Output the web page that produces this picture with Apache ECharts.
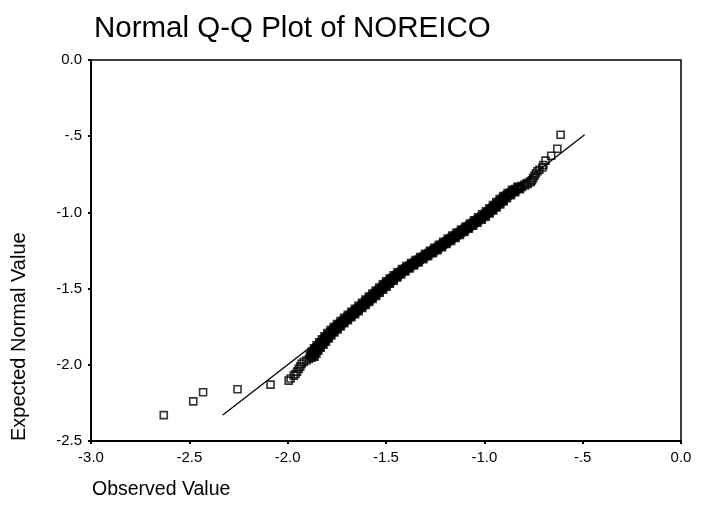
<!DOCTYPE html>
<html>
<head>
<meta charset="utf-8">
<script src="https://cdn.jsdelivr.net/npm/echarts@6/dist/echarts.min.js"></script>
<style>
html,body{margin:0;padding:0;background:#fff;}
#chart{width:709px;height:515px;}
</style>
</head>
<body>
<div id="chart"></div>
<script>
// Isolated points in the tails: observed (x) and expected normal (y)
const tailObserved = [
  -2.630,-2.480,-2.430,-2.255,-2.087,-1.995,-1.985,-1.969,-1.960,-1.952,-1.944,-1.936,-1.929,-1.918,-1.905,-1.892,
  -0.758,-0.752,-0.745,-0.738,-0.730,-0.720,-0.705,-0.700,-0.689,-0.660,-0.629,-0.612
];
const tailExpected = [
  -2.330,-2.240,-2.180,-2.160,-2.130,-2.104,-2.090,-2.071,-2.060,-2.045,-2.026,-2.012,-1.994,-1.982,-1.972,-1.962,
  -0.790,-0.775,-0.760,-0.745,-0.730,-0.720,-0.705,-0.690,-0.660,-0.628,-0.582,-0.490
];
// Dense band of points: observed (x) and expected normal (y)
const bandObserved = [
  -1.880,-1.874,-1.871,-1.864,-1.861,-1.854,-1.850,-1.841,-1.836,-1.828,-1.823,-1.814,-1.809,-1.801,-1.796,-1.787,
  -1.781,-1.771,-1.765,-1.755,-1.749,-1.738,-1.731,-1.720,-1.713,-1.702,-1.695,-1.684,-1.676,-1.665,-1.658,-1.647,
  -1.640,-1.629,-1.622,-1.611,-1.604,-1.593,-1.587,-1.576,-1.569,-1.558,-1.551,-1.541,-1.534,-1.523,-1.516,-1.505,
  -1.499,-1.488,-1.481,-1.469,-1.462,-1.450,-1.443,-1.431,-1.422,-1.409,-1.400,-1.387,-1.378,-1.364,-1.354,-1.341,
  -1.331,-1.317,-1.307,-1.293,-1.282,-1.268,-1.258,-1.245,-1.235,-1.222,-1.212,-1.199,-1.190,-1.176,-1.167,-1.153,
  -1.144,-1.131,-1.122,-1.108,-1.099,-1.086,-1.077,-1.064,-1.055,-1.042,-1.033,-1.021,-1.013,-1.001,-0.993,-0.981,
  -0.974,-0.963,-0.956,-0.945,-0.938,-0.928,-0.921,-0.911,-0.904,-0.894,-0.885,-0.872,-0.863,-0.850,-0.841,-0.824,
  -0.811,-0.794,-0.782,-0.767,
  -1.865,-1.885,-1.856,-1.875,-1.846,-1.864,-1.834,-1.851,-1.820,-1.838,-1.807,-1.824,-1.793,-1.811,-1.780,-1.796,
  -1.764,-1.780,-1.748,-1.764,-1.732,-1.747,-1.714,-1.729,-1.696,-1.711,-1.678,-1.692,-1.659,-1.674,-1.641,-1.656,
  -1.623,-1.638,-1.605,-1.620,-1.587,-1.602,-1.570,-1.585,-1.552,-1.567,-1.534,-1.550,-1.517,-1.532,-1.499,-1.514,
  -1.482,-1.497,-1.463,-1.478,-1.444,-1.459,-1.425,-1.439,-1.404,-1.417,-1.382,-1.395,-1.359,-1.371,-1.336,-1.348,
  -1.312,-1.324,-1.288,-1.300,-1.263,-1.275,-1.240,-1.252,-1.217,-1.229,-1.194,-1.207,-1.171,-1.184,-1.148,-1.161,
  -1.126,-1.139,-1.103,-1.116,-1.081,-1.094,-1.059,-1.072,-1.037,-1.050,-1.015,-1.029,-0.995,-1.009,-0.975,-0.990,
  -0.957,-0.972,-0.939,-0.954,-0.921,-0.937,-0.904,-0.920,-0.887,-0.902,-0.867,-0.880,-0.845,-0.858,-0.821,-0.830
];
const bandExpected = [
  -1.950,-1.940,-1.930,-1.920,-1.910,-1.900,-1.890,-1.880,-1.870,-1.860,-1.850,-1.840,-1.830,-1.820,-1.810,-1.800,
  -1.790,-1.780,-1.770,-1.760,-1.750,-1.740,-1.730,-1.720,-1.710,-1.700,-1.690,-1.680,-1.670,-1.660,-1.650,-1.640,
  -1.630,-1.620,-1.610,-1.600,-1.590,-1.580,-1.570,-1.560,-1.550,-1.540,-1.530,-1.520,-1.510,-1.500,-1.490,-1.480,
  -1.470,-1.460,-1.450,-1.440,-1.430,-1.420,-1.410,-1.400,-1.390,-1.380,-1.370,-1.360,-1.350,-1.340,-1.330,-1.320,
  -1.310,-1.300,-1.290,-1.280,-1.270,-1.260,-1.250,-1.240,-1.230,-1.220,-1.210,-1.200,-1.190,-1.180,-1.170,-1.160,
  -1.150,-1.140,-1.130,-1.120,-1.110,-1.100,-1.090,-1.080,-1.070,-1.060,-1.050,-1.040,-1.030,-1.020,-1.010,-1.000,
  -0.990,-0.980,-0.970,-0.960,-0.950,-0.940,-0.930,-0.920,-0.910,-0.900,-0.890,-0.880,-0.870,-0.860,-0.850,-0.840,
  -0.830,-0.820,-0.810,-0.800,
  -1.945,-1.935,-1.925,-1.915,-1.905,-1.895,-1.885,-1.875,-1.865,-1.855,-1.845,-1.835,-1.825,-1.815,-1.805,-1.795,
  -1.785,-1.775,-1.765,-1.755,-1.745,-1.735,-1.725,-1.715,-1.705,-1.695,-1.685,-1.675,-1.665,-1.655,-1.645,-1.635,
  -1.625,-1.615,-1.605,-1.595,-1.585,-1.575,-1.565,-1.555,-1.545,-1.535,-1.525,-1.515,-1.505,-1.495,-1.485,-1.475,
  -1.465,-1.455,-1.445,-1.435,-1.425,-1.415,-1.405,-1.395,-1.385,-1.375,-1.365,-1.355,-1.345,-1.335,-1.325,-1.315,
  -1.305,-1.295,-1.285,-1.275,-1.265,-1.255,-1.245,-1.235,-1.225,-1.215,-1.205,-1.195,-1.185,-1.175,-1.165,-1.155,
  -1.145,-1.135,-1.125,-1.115,-1.105,-1.095,-1.085,-1.075,-1.065,-1.055,-1.045,-1.035,-1.025,-1.015,-1.005,-0.995,
  -0.985,-0.975,-0.965,-0.955,-0.945,-0.935,-0.925,-0.915,-0.905,-0.895,-0.885,-0.875,-0.865,-0.855,-0.845,-0.835
];
// Reference (expected normal) line end points
const lineX = [-2.33, -0.49];
const lineY = [-2.33, -0.49];
// Tick labels
const xTickLabels = {'-3':'-3.0','-2.5':'-2.5','-2':'-2.0','-1.5':'-1.5','-1':'-1.0','-0.5':'-.5','0':'0.0'};
const yTickLabels = {'0':'0.0','-0.5':'-.5','-1':'-1.0','-1.5':'-1.5','-2':'-2.0','-2.5':'-2.5'};
const titleText = 'Normal Q-Q Plot of NOREICO';
const xName = 'Observed Value';
const yName = 'Expected Normal Value';

const tailPts = tailObserved.map((x, i) => [x, tailExpected[i]]);
const bandPts = bandObserved.map((x, i) => [x, bandExpected[i]]);
const linePts = lineX.map((x, i) => [x, lineY[i]]);
const fontFam = '"Liberation Sans", Arial, sans-serif';

const chart = echarts.init(document.getElementById('chart'));
chart.setOption({
  backgroundColor: '#fff',
  animation: false,
  title: {
    text: titleText, left: 89, top: 9,
    textStyle: {fontFamily: fontFam, fontSize: 29.5, fontWeight: 'normal', color: '#000'}
  },
  grid: {left: 91, right: 28, top: 60, bottom: 74, show: true, borderColor: '#000', borderWidth: 1.5, backgroundColor: 'transparent'},
  xAxis: {
    type: 'value', min: -3, max: 0, interval: 0.5,
    axisLine: {show: true, onZero: false, lineStyle: {color: '#000', width: 2}},
    axisTick: {show: true, length: 3, lineStyle: {color: '#000', width: 2}},
    splitLine: {show: false},
    axisLabel: {color: '#000', fontFamily: fontFam, fontSize: 15, margin: 9,
      formatter: v => xTickLabels[String(v)] ?? String(v)}
  },
  yAxis: {
    type: 'value', min: -2.5, max: 0, interval: 0.5,
    axisLine: {show: true, onZero: false, lineStyle: {color: '#000', width: 2}},
    axisTick: {show: true, length: 3, lineStyle: {color: '#000', width: 2}},
    splitLine: {show: false},
    axisLabel: {color: '#000', fontFamily: fontFam, fontSize: 15, margin: 9,
      formatter: v => yTickLabels[String(v)] ?? String(v)}
  },
  graphic: [
    {type: 'text', left: 92, top: 480, style: {text: xName, fontFamily: fontFam, fontSize: 19.5, fill: '#000'}},
    {type: 'text', x: 29, y: 441, rotation: Math.PI / 2, style: {text: yName, fontFamily: fontFam, fontSize: 20, fill: '#000', textAlign: 'left', textVerticalAlign: 'bottom'}}
  ],
  series: [
    {
      type: 'line', data: linePts, symbol: 'none', silent: true,
      lineStyle: {color: '#000', width: 1.3}, z: 1
    },
    {
      type: 'scatter', data: bandPts, symbol: 'rect', symbolSize: 7,
      itemStyle: {color: 'rgba(255,255,255,0)', borderColor: '#000', borderWidth: 2.4}, z: 2
    },
    {
      type: 'scatter', data: tailPts, symbol: 'rect', symbolSize: 7,
      itemStyle: {color: 'rgba(255,255,255,0)', borderColor: '#000', borderWidth: 1.6}, z: 3
    }
  ]
});
</script>
</body>
</html>
